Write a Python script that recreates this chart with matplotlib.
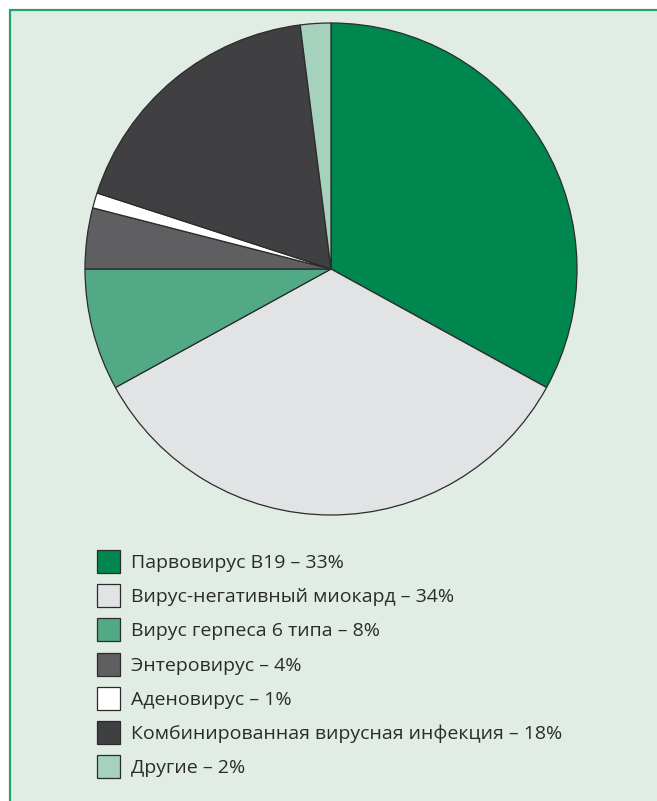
import matplotlib
matplotlib.use("Agg")
import matplotlib.pyplot as plt
from matplotlib.patches import Rectangle

categories = ["Парвовирус В19", "Вирус-негативный миокард", "Вирус герпеса 6 типа",
              "Энтеровирус", "Аденовирус", "Комбинированная вирусная инфекция", "Другие"]
values = [33, 34, 8, 4, 1, 18, 2]
colors = ["#00874f", "#e2e3e5", "#52a986", "#5f5f61", "#ffffff", "#404042", "#a6d2bd"]

W, H = 657, 801
fig = plt.figure(figsize=(W / 100, H / 100), dpi=100)
fig.patch.set_facecolor("white")

# panel background with green border (top & left visible)
panel = Rectangle((10 / W, -0.05), 1.2, 1 - 10 / H + 0.05, transform=fig.transFigure,
                  facecolor="#e1ede4", edgecolor="#2e9e6a", linewidth=1.6, zorder=-10)
fig.patches.append(panel)

cx, cy, r = 331, 269, 246
ax = fig.add_axes([(cx - r) / W, (H - cy - r) / H, 2 * r / W, 2 * r / H])
ax.set_zorder(5)
ax.set_facecolor("none")
wedges, _ = ax.pie(values, colors=colors, startangle=90, counterclock=False,
                   wedgeprops=dict(edgecolor="#2b2b2b", linewidth=0.9))
for w in wedges:
    w.set_clip_on(False)
ax.set_xlim(-1, 1)
ax.set_ylim(-1, 1)
ax.set_aspect("equal")
ax.axis("off")

labels = [f"{c} – {v}%" for c, v in zip(categories, values)]
fs = 14
leg = fig.legend(wedges, labels, loc="upper left", bbox_to_anchor=(97 / W, 1 - 550 / H),
                 frameon=False, prop=dict(family="Open Sans", size=fs),
                 handlelength=1.18, handleheight=1.45, labelspacing=0.57, handletextpad=0.55,
                 borderpad=0, borderaxespad=0, labelcolor="#2b2b2b")
leg.set_zorder(6)

fig.savefig("out.png", dpi=100, facecolor=fig.get_facecolor())
